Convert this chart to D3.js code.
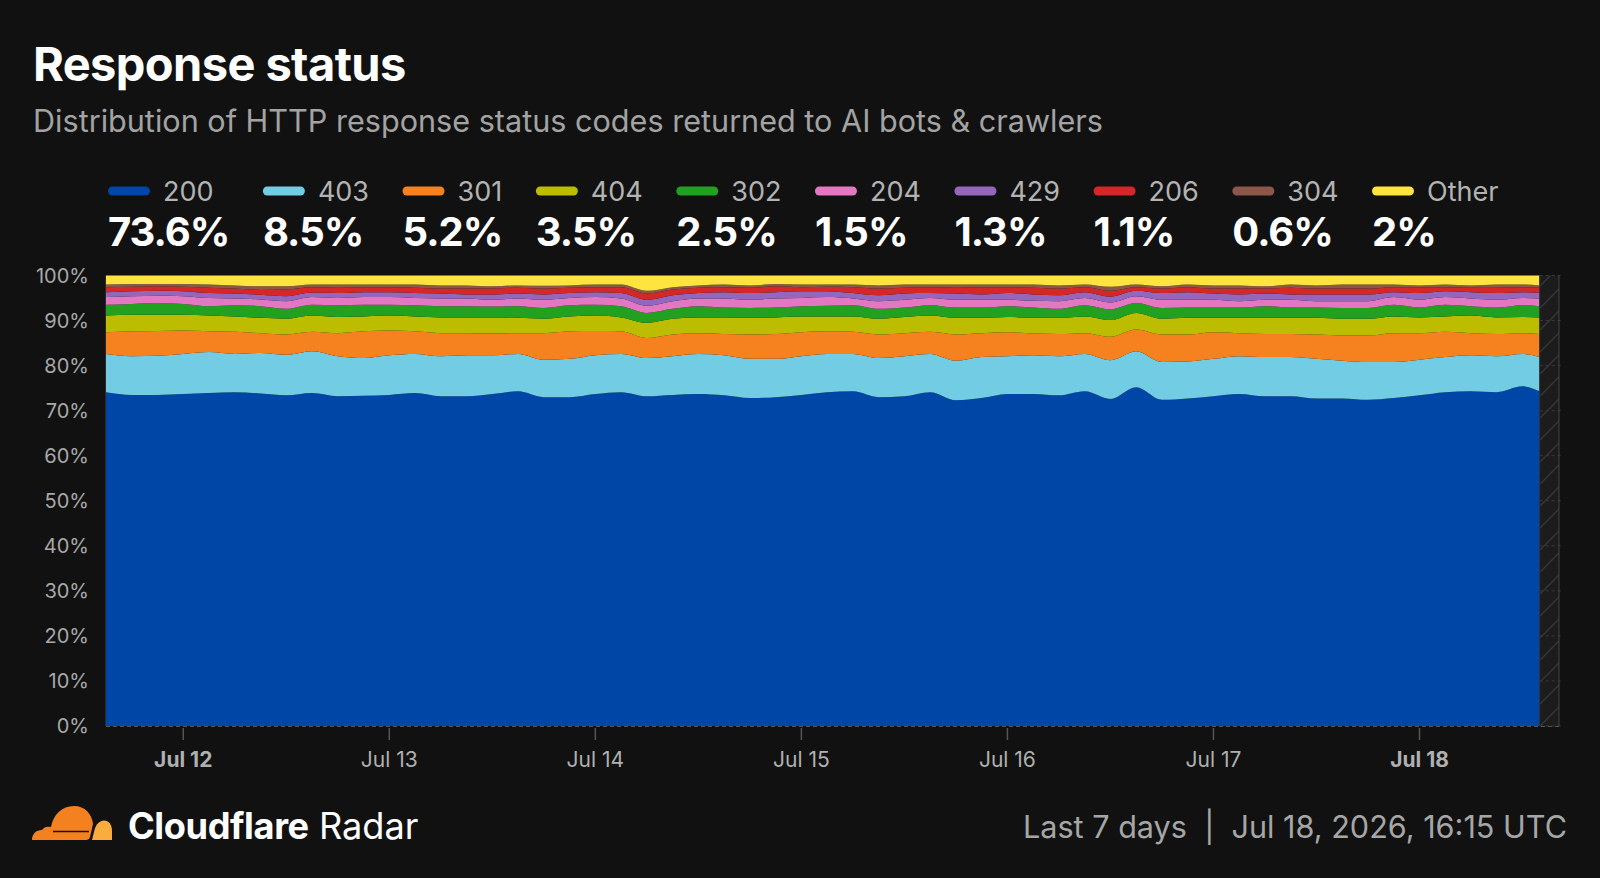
<!DOCTYPE html>
<html>
<head>
<meta charset="utf-8">
<script src="https://cdn.jsdelivr.net/npm/d3@7"></script>
<style>
  html, body { margin: 0; padding: 0; background: #111111; }
  svg { display: block; font-family: Inter, "Noto Sans", sans-serif; }
</style>
</head>
<body>
<svg id="chart" width="1600" height="878"></svg>
<script>
// ----- data -----
const codes = ["200", "403", "301", "404", "302", "204", "429", "206", "304", "Other"];
const shares = ["73.6%", "8.5%", "5.2%", "3.5%", "2.5%", "1.5%", "1.3%", "1.1%", "0.6%", "2%"];
const colors = ["#0046a6", "#72cde4", "#f6821f", "#bcbd00", "#22a121", "#e377c2", "#9467bd", "#d62728", "#8c564b", "#ffe33f"];

const startTime = "2026-07-11T15:00:00Z";
const endTime = "2026-07-18T16:15:00Z";
// hours after startTime for each sample
const hourOffsets = [0, 3, 6, 9, 12, 15, 18, 21, 24, 27, 30, 33, 36, 39, 42,
  45, 48, 51, 54, 57, 60, 63, 66, 69, 72, 75, 78, 81, 84,
  87, 90, 93, 96, 99, 102, 105, 108, 111, 114, 117, 120, 123, 126,
  129, 132, 135, 138, 141, 144, 147, 150, 153, 156, 159, 162, 165, 167];

// share of requests (%) per status code
const s200 = [74.1, 73.5, 73.5, 73.7, 73.9, 74.1, 73.8, 73.4, 73.9, 73.2, 73.3, 73.5, 73.9, 73.2, 73.2,
  73.7, 74.3, 73.0, 73.0, 73.7, 74.1, 73.2, 73.5, 73.7, 73.4, 72.8, 73.0, 73.5, 74.1,
  74.3, 73.0, 73.2, 74.1, 72.3, 72.8, 73.7, 73.7, 73.4, 74.3, 72.6, 75.2, 72.4, 72.7,
  73.2, 73.7, 73.2, 73.2, 72.7, 72.7, 72.4, 72.8, 73.4, 74.1, 74.3, 74.1, 75.4, 74.3];
const s403 = [8.5, 8.6, 8.7, 8.9, 9.1, 8.5, 9.0, 9.0, 9.3, 8.9, 8.4, 8.8, 8.7, 8.9, 9.1,
  8.6, 8.3, 8.3, 8.5, 8.6, 8.5, 8.5, 8.6, 8.9, 8.9, 8.7, 8.5, 8.6, 8.5,
  8.3, 8.7, 8.9, 8.5, 8.8, 9.1, 8.4, 8.6, 8.7, 8.3, 8.6, 8.0, 8.4, 8.2,
  8.3, 8.4, 8.7, 8.7, 8.8, 8.4, 8.4, 8.0, 7.9, 7.8, 8.0, 8.0, 7.2, 7.6];
const s301 = [4.8, 5.5, 5.5, 5.2, 4.6, 4.9, 4.4, 4.5, 4.3, 5.1, 5.9, 5.5, 5.0, 5.1, 4.9,
  4.8, 4.6, 5.9, 6.1, 5.4, 5.0, 4.4, 4.8, 4.6, 4.7, 5.4, 5.5, 5.3, 5.0,
  4.9, 5.2, 5.1, 4.9, 5.8, 5.3, 5.3, 4.8, 4.9, 4.6, 5.2, 4.8, 6.1, 6.0,
  5.9, 5.1, 5.1, 5.1, 5.4, 5.6, 5.9, 6.4, 5.9, 5.6, 4.9, 4.9, 4.6, 5.1];
const s404 = [3.7, 3.7, 3.6, 3.5, 3.5, 3.4, 3.4, 3.5, 3.6, 3.6, 3.3, 3.3, 3.3, 3.5, 3.5,
  3.6, 3.4, 3.2, 3.3, 3.4, 3.1, 3.4, 3.5, 3.5, 3.7, 3.7, 3.7, 3.5, 3.3,
  3.4, 3.5, 3.6, 3.6, 3.7, 3.4, 3.4, 3.5, 3.6, 3.7, 3.7, 3.7, 3.5, 3.7,
  3.2, 3.4, 3.6, 3.6, 3.7, 3.7, 3.7, 3.7, 3.5, 3.4, 3.9, 3.7, 3.6, 3.7];
const s302 = [2.4, 2.4, 2.6, 2.4, 2.1, 2.5, 2.6, 2.2, 2.4, 2.6, 2.6, 2.4, 2.5, 2.5, 2.5,
  2.4, 2.6, 2.4, 2.5, 2.4, 2.5, 2.2, 2.2, 2.5, 2.2, 2.2, 2.2, 2.3, 2.4,
  2.5, 2.2, 2.1, 2.3, 2.3, 2.3, 2.4, 2.3, 2.0, 2.5, 2.4, 2.2, 2.4, 2.3,
  2.3, 2.3, 2.6, 2.3, 2.3, 2.4, 2.4, 2.6, 2.2, 2.6, 2.1, 2.2, 2.6, 2.5];
const s204 = [1.7, 1.7, 1.6, 1.7, 1.8, 1.5, 1.5, 1.7, 1.7, 1.6, 1.7, 1.7, 1.6, 1.7, 1.7,
  1.5, 1.7, 1.8, 1.6, 1.7, 1.7, 1.6, 1.7, 1.7, 2.0, 1.8, 2.0, 1.8, 1.9,
  1.5, 1.7, 1.7, 1.6, 1.7, 1.7, 1.4, 1.5, 1.7, 1.6, 1.5, 1.5, 1.8, 1.7,
  1.7, 1.4, 1.4, 1.7, 1.4, 1.5, 1.5, 1.7, 1.7, 1.7, 1.7, 1.7, 1.6, 1.7];
const s429 = [1.1, 1.1, 1.1, 1.1, 1.1, 1.1, 1.0, 1.1, 1.0, 1.1, 1.1, 1.1, 1.1, 1.1, 0.9,
  1.2, 1.1, 1.2, 1.1, 1.1, 1.2, 1.3, 1.3, 1.2, 1.4, 1.5, 1.4, 1.5, 1.3,
  1.2, 1.3, 1.4, 1.1, 1.4, 1.2, 1.5, 1.4, 1.3, 1.3, 1.3, 1.2, 1.5, 1.7,
  1.4, 1.5, 1.4, 1.2, 1.5, 1.5, 1.5, 1.1, 1.5, 1.3, 1.4, 1.5, 1.3, 1.2];
const s206 = [1.1, 1.0, 1.0, 1.0, 1.2, 1.1, 1.1, 1.5, 1.2, 1.2, 1.1, 1.1, 1.2, 1.1, 1.3,
  1.3, 1.3, 1.3, 1.2, 1.1, 1.3, 1.4, 1.3, 1.2, 1.1, 1.2, 1.3, 0.9, 1.0,
  1.3, 1.5, 1.3, 1.3, 1.3, 1.6, 1.3, 1.5, 1.5, 1.1, 1.3, 0.8, 1.0, 1.1,
  1.1, 1.3, 1.1, 1.5, 1.3, 1.3, 1.3, 1.1, 1.3, 0.9, 1.0, 1.2, 1.1, 1.2];
const s304 = [0.6, 0.6, 0.5, 0.6, 0.7, 0.7, 0.8, 0.7, 0.6, 0.7, 0.6, 0.6, 0.7, 0.7, 0.7,
  0.5, 0.5, 0.6, 0.5, 0.6, 0.6, 0.6, 0.5, 0.5, 0.6, 0.5, 0.5, 0.6, 0.5,
  0.6, 0.7, 0.7, 0.6, 0.7, 0.6, 0.6, 0.7, 0.7, 0.6, 0.9, 0.6, 0.5, 0.6,
  0.7, 0.7, 0.5, 0.7, 0.7, 0.9, 0.9, 0.6, 0.4, 0.6, 0.5, 0.7, 0.6, 0.5];
const sOther = [2.0, 1.9, 1.9, 1.9, 2.0, 2.2, 2.4, 2.4, 2.0, 2.0, 2.0, 2.0, 2.0, 2.2, 2.2,
  2.4, 2.2, 2.3, 2.2, 2.0, 2.0, 3.4, 2.6, 2.2, 2.0, 2.2, 1.9, 2.0, 2.0,
  2.0, 2.2, 2.0, 2.0, 2.0, 2.0, 2.0, 2.0, 2.2, 2.0, 2.5, 2.0, 2.4, 2.0,
  2.2, 2.2, 2.4, 2.0, 2.2, 2.0, 2.0, 2.0, 2.2, 2.0, 2.2, 2.0, 2.0, 2.2];

const seriesValues = [s200, s403, s301, s404, s302, s204, s429, s206, s304, sOther];

// ----- rows for the stack -----
const t0 = new Date(startTime);
const rows = hourOffsets.map((h, i) => {
  const r = { date: d3.utcHour.offset(t0, h) };
  codes.forEach((c, k) => r[c] = seriesValues[k][i]);
  return r;
});

const svg = d3.select("#chart");
const W = 1600, H = 878;
const margin = { top: 275.5, right: 41, bottom: 152, left: 106 };

// ----- title -----
svg.append("text")
  .attr("x", 33).attr("y", 81)
  .attr("fill", "#ffffff")
  .attr("font-size", 47).attr("font-weight", 700)
  .attr("letter-spacing", -0.6)
  .text("Response status");

svg.append("text")
  .attr("x", 33).attr("y", 132)
  .attr("fill", "#a3a3a3")
  .attr("font-size", 30.6)
  .text("Distribution of HTTP response status codes returned to AI bots & crawlers");

// ----- legend -----
const legend = svg.append("g");
let lx = 108;
codes.forEach((c, i) => {
  const g = legend.append("g").attr("transform", `translate(${lx},0)`);
  g.append("rect")
    .attr("x", 0).attr("y", 186.5)
    .attr("width", 42).attr("height", 9).attr("rx", 4.5)
    .attr("fill", colors[i]);
  const lab = g.append("text")
    .attr("x", 55).attr("y", 200.5)
    .attr("fill", "#b3b3b3")
    .attr("font-size", 27)
    .text(c);
  const val = g.append("text")
    .attr("x", 0).attr("y", 246)
    .attr("fill", "#ffffff")
    .attr("font-size", 40).attr("font-weight", 700)
    .attr("letter-spacing", -1)
    .text(shares[i]);
  const w = Math.max(55 + lab.node().getComputedTextLength(), val.node().getComputedTextLength());
  lx += w + 33.5;
});

// ----- scales -----
const x = d3.scaleUtc()
  .domain([t0, new Date(endTime)])
  .range([margin.left, W - margin.right]);
const y = d3.scaleLinear()
  .domain([0, 1])
  .range([H - margin.bottom, margin.top]);

const stack = d3.stack().keys(codes).offset(d3.stackOffsetExpand);
const layers = stack(rows);

const area = d3.area()
  .x(d => x(d.data.date))
  .y0(d => y(d[0]))
  .y1(d => y(d[1]))
  .curve(d3.curveMonotoneX);

// ----- y axis -----
const yTicks = d3.range(0, 1.0001, 0.1);
svg.append("g")
  .selectAll("text")
  .data(yTicks)
  .enter().append("text")
  .attr("x", 89)
  .attr("y", d => y(d))
  .attr("dy", "0.35em")
  .attr("text-anchor", "end")
  .attr("fill", "#a8a8a8")
  .attr("font-size", 20)
  .text(d3.format(".0%"));

// ----- areas -----
svg.append("g")
  .selectAll("path")
  .data(layers)
  .enter().append("path")
  .attr("d", area)
  .attr("fill", (d, i) => colors[i]);

// ----- incomplete period (hatched) -----
const lastX = x(rows[rows.length - 1].date);
const endX = x(new Date(endTime));
const defs = svg.append("defs");
defs.append("pattern")
  .attr("id", "hatch")
  .attr("patternUnits", "userSpaceOnUse")
  .attr("width", 22).attr("height", 22)
  .append("path")
  .attr("d", "M-2,24 L24,-2")
  .attr("stroke", "#3a3a3a")
  .attr("stroke-width", 1.2);

svg.append("rect")
  .attr("x", lastX).attr("y", y(1))
  .attr("width", endX - lastX).attr("height", y(0) - y(1))
  .attr("fill", "#1c1c1c");
svg.append("rect")
  .attr("x", lastX).attr("y", y(1))
  .attr("width", endX - lastX).attr("height", y(0) - y(1))
  .attr("fill", "url(#hatch)");
svg.append("g")
  .selectAll("line")
  .data(yTicks)
  .enter().append("line")
  .attr("x1", lastX).attr("x2", endX + 3)
  .attr("y1", d => y(d)).attr("y2", d => y(d))
  .attr("stroke", "#3a3a3a")
  .attr("stroke-dasharray", "3,3");
svg.append("line")
  .attr("x1", endX).attr("x2", endX)
  .attr("y1", y(1)).attr("y2", y(0))
  .attr("stroke", "#444");
svg.append("line")
  .attr("x1", lastX).attr("x2", lastX)
  .attr("y1", y(1)).attr("y2", y(0))
  .attr("stroke", "#333");

// left edge + dashed baseline
svg.append("line")
  .attr("x1", margin.left - 0.5).attr("x2", margin.left - 0.5)
  .attr("y1", y(1)).attr("y2", y(0))
  .attr("stroke", "#2a2a2a");
svg.append("line")
  .attr("x1", margin.left).attr("x2", endX)
  .attr("y1", y(0) + 0.5).attr("y2", y(0) + 0.5)
  .attr("stroke", "#555")
  .attr("stroke-dasharray", "4,3");

// ----- x axis -----
const days = d3.utcDay.range(d3.utcDay.ceil(t0), new Date(endTime));
const fmt = d3.utcFormat("%b %-d");
const xAxis = svg.append("g");
xAxis.selectAll("line")
  .data(days)
  .enter().append("line")
  .attr("x1", d => x(d)).attr("x2", d => x(d))
  .attr("y1", y(0) + 2).attr("y2", y(0) + 14)
  .attr("stroke", "#555").attr("stroke-width", 1.5);
xAxis.selectAll("text")
  .data(days)
  .enter().append("text")
  .attr("x", d => x(d))
  .attr("y", 767)
  .attr("text-anchor", "middle")
  .attr("fill", "#b0b0b0")
  .attr("font-size", 21)
  .attr("font-weight", (d, i) => (i === 0 || i === days.length - 1) ? 700 : 400)
  .text(fmt);

// ----- footer -----
const logo = svg.append("g").attr("transform", "translate(32,803)");
logo.append("path")
  .attr("d", "M0,37 C0,31 4,27 10,27 C12,24 15,23 19,24 C21,12 30,3 42,3 C53,3 60,11 61,21 L58,34 C57.5,36 56,37 54,37 Z")
  .attr("fill", "#f48120");
logo.append("path")
  .attr("d", "M60,37 L62.5,27 C64,21 68,17.5 72,17.5 C77,17.5 80,22 80,28 L80,37 Z")
  .attr("fill", "#faad3f");
logo.append("path")
  .attr("d", "M21,28.5 L57,28.5")
  .attr("stroke", "#111111").attr("stroke-width", 1.6);

svg.append("text")
  .attr("x", 128).attr("y", 839)
  .attr("fill", "#ffffff")
  .attr("font-size", 36.2)
  .call(t => {
    t.append("tspan").attr("font-weight", 700).attr("letter-spacing", -0.4).text("Cloudflare");
    t.append("tspan").attr("font-weight", 400).text(" Radar");
  });

svg.append("text")
  .attr("x", 1567).attr("y", 838)
  .attr("text-anchor", "end")
  .attr("fill", "#a6a6a6")
  .attr("font-size", 30.6)
  .style("white-space", "pre")
  .text("Last 7 days  |  Jul 18, 2026, 16:15 UTC");
</script>
</body>
</html>
